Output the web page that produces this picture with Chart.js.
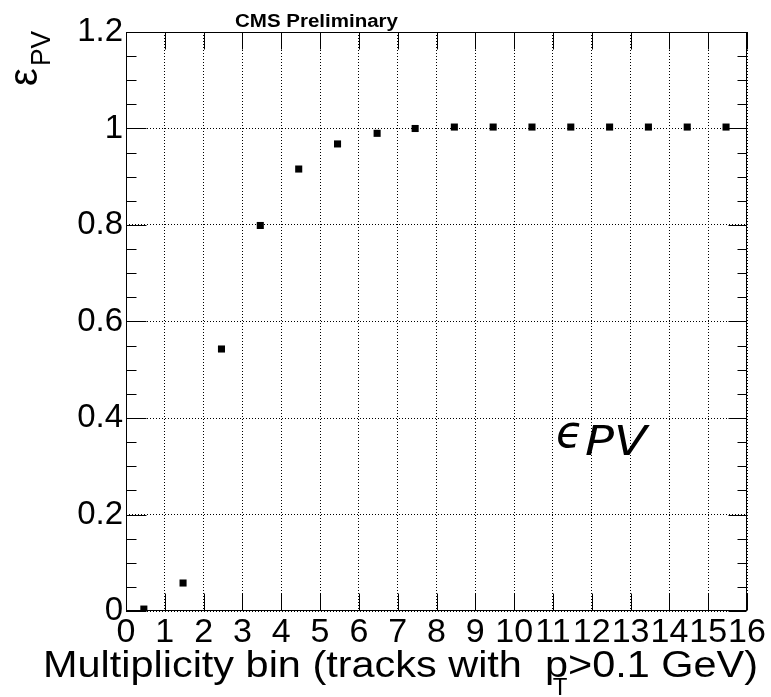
<!DOCTYPE html>
<html>
<head>
<meta charset="utf-8">
<script src="https://cdn.jsdelivr.net/npm/chart.js@4.4.0/dist/chart.umd.min.js"></script>
<style>
  html, body { margin: 0; padding: 0; background: #fff; }
  #wrap { width: 771px; height: 697px; }
</style>
</head>
<body>
<div id="wrap"><canvas id="effChart" width="771" height="697"></canvas></div>
<script>
var binCenters = [0.46, 1.47, 2.46, 3.46, 4.45, 5.45, 6.47, 7.45, 8.46, 9.46, 10.46, 11.46, 12.46, 13.46, 14.46, 15.46];
var efficiency = [0.004, 0.058, 0.543, 0.799, 0.916, 0.968, 0.990, 1.000, 1.003, 1.003, 1.003, 1.003, 1.003, 1.003, 1.003, 1.003];
var xTicks = [0, 1, 2, 3, 4, 5, 6, 7, 8, 9, 10, 11, 12, 13, 14, 15, 16];
var yTicks = [0, 0.2, 0.4, 0.6, 0.8, 1, 1.2];

var points = binCenters.map(function(x, i) { return { x: x, y: efficiency[i] }; });

// draws text squeezed/stretched to a given width
function fitText(ctx, txt, x, y, w) {
    var m = ctx.measureText(txt).width;
    ctx.save();
    ctx.translate(x, y);
    ctx.scale(w / m, 1);
    ctx.fillText(txt, 0, 0);
    ctx.restore();
}

var rootDecor = {
    id: 'rootDecor',
    afterDraw: function(chart) {
        var ctx = chart.ctx, a = chart.chartArea;
        var xs = chart.scales.x, ys = chart.scales.y;
        var L = Math.round(a.left) + 0.5, R = Math.round(a.right) - 0.5;
        var T = Math.round(a.top) + 0.5, B = Math.round(a.bottom) - 0.5;

        ctx.save();
        ctx.strokeStyle = '#000';
        ctx.lineWidth = 1;
        ctx.setLineDash([]);
        ctx.beginPath();
        xTicks.forEach(function(v) {
            var px = Math.round(xs.getPixelForValue(v)) + 0.5;
            ctx.moveTo(px, B); ctx.lineTo(px, B - 17);
            ctx.moveTo(px, T); ctx.lineTo(px, T + 17);
        });
        for (var i = 0; i <= 24; i++) {
            var py = Math.round(ys.getPixelForValue(i * 0.05)) + 0.5;
            var major = i % 4 === 0;
            ctx.moveTo(L, py); ctx.lineTo(L + (major ? 20 : 10), py);
            ctx.moveTo(R, py); ctx.lineTo(R - (major ? 18 : 9), py);
        }
        ctx.stroke();
        ctx.strokeRect(L, T, R - L, B - T);

        ctx.fillStyle = '#000';
        ctx.textAlign = 'left';
        ctx.textBaseline = 'alphabetic';

        // header
        ctx.font = 'bold 18px "Liberation Sans", Arial, sans-serif';
        fitText(ctx, 'CMS Preliminary', 235, 27, 163);

        // x title (ROOT drops the T subscript under the p)
        ctx.font = '37px "Liberation Sans", Arial, sans-serif';
        fitText(ctx, 'Multiplicity bin (tracks with  p>0.1 GeV)', 43, 677, 715);
        ctx.font = '24px "Liberation Sans", Arial, sans-serif';
        ctx.textAlign = 'center';
        ctx.fillText('T', 560, 695);
        ctx.textAlign = 'left';

        // y title
        ctx.save();
        ctx.translate(37, 86);
        ctx.rotate(-Math.PI / 2);
        ctx.font = '40px "Liberation Sans", Arial, sans-serif';
        ctx.fillText('\u03b5', 0, 0);
        ctx.restore();
        ctx.save();
        ctx.translate(50, 66);
        ctx.rotate(-Math.PI / 2);
        ctx.font = '28px "Liberation Sans", Arial, sans-serif';
        fitText(ctx, 'PV', 0, 0, 35);
        ctx.restore();

        // label inside the frame
        ctx.font = 'italic 44px "DejaVu Sans", sans-serif';
        ctx.fillText('\u03f5', 556, 447);
        ctx.font = 'italic 40px "DejaVu Sans", sans-serif';
        fitText(ctx, 'PV', 585, 455, 62);
        ctx.restore();
    }
};

var ctx = document.getElementById('effChart').getContext('2d');
new Chart(ctx, {
    type: 'scatter',
    data: {
        datasets: [{
            label: 'eff',
            data: points,
            pointStyle: 'rect',
            pointRadius: 5,
            pointBackgroundColor: '#000',
            pointBorderWidth: 0,
            showLine: false
        }]
    },
    options: {
        responsive: false,
        animation: false,
        layout: { padding: { left: 0, top: 32, right: 24, bottom: 0 } },
        plugins: {
            legend: { display: false },
            tooltip: { enabled: false }
        },
        scales: {
            x: {
                type: 'linear',
                min: 0,
                max: 16,
                afterBuildTicks: function(scale) {
                    scale.ticks = xTicks.map(function(v) { return { value: v }; });
                },
                afterFit: function(scale) { scale.height = 86; },
                grid: { color: '#000', lineWidth: 1, drawTicks: false },
                border: { display: false, dash: [1, 2] },
                ticks: {
                    color: '#000',
                    padding: 1,
                    maxRotation: 0,
                    autoSkip: false,
                    font: { family: '"Liberation Sans", Arial, sans-serif', size: 34 }
                }
            },
            y: {
                min: 0,
                max: 1.2,
                afterBuildTicks: function(scale) {
                    scale.ticks = yTicks.map(function(v) { return { value: v }; });
                },
                afterFit: function(scale) { scale.width = 126; },
                grid: { color: '#000', lineWidth: 1, drawTicks: false },
                border: { display: false, dash: [1, 2] },
                ticks: {
                    color: '#000',
                    padding: 3,
                    autoSkip: false,
                    callback: function(v) { return String(+v.toFixed(1)); },
                    font: { family: '"Liberation Sans", Arial, sans-serif', size: 33 }
                }
            }
        }
    },
    plugins: [rootDecor]
});
</script>
</body>
</html>
